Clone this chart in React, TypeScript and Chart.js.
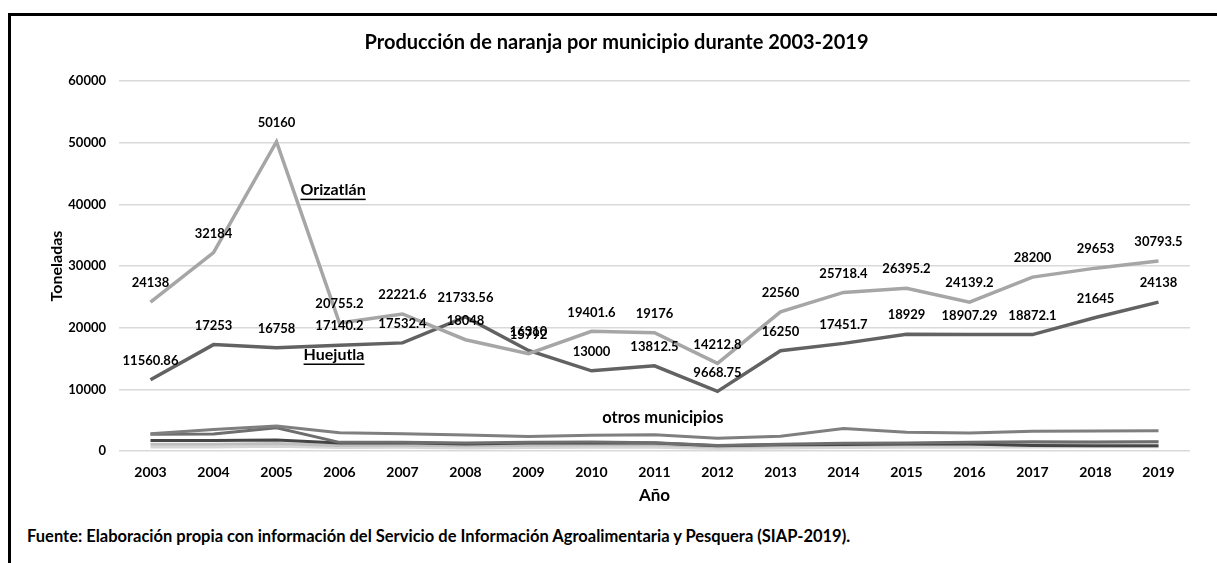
import React, { useEffect, useRef } from "react";
import { Chart, registerables } from "chart.js";

Chart.register(...registerables);

const FONT = "Lato, 'Open Sans', sans-serif";

const years = ["2003", "2004", "2005", "2006", "2007", "2008", "2009", "2010", "2011", "2012", "2013", "2014", "2015", "2016", "2017", "2018", "2019"];

const orizatlan = [24138, 32184, 50160, 20755.2, 22221.6, 18048, 15792, 19401.6, 19176, 14212.8, 22560, 25718.4, 26395.2, 24139.2, 28200, 29653, 30793.5];
const huejutla = [11560.86, 17253, 16758, 17140.2, 17532.4, 21733.56, 16310, 13000, 13812.5, 9668.75, 16250, 17451.7, 18929, 18907.29, 18872.1, 21645, 24138];

const otros1 = [2800, 3500, 4050, 2950, 2800, 2600, 2350, 2550, 2650, 2050, 2400, 3650, 3050, 2900, 3200, 3250, 3300];
const otros2 = [2700, 2750, 3750, 1400, 1400, 1300, 1400, 1450, 1350, 900, 1100, 1250, 1300, 1400, 1500, 1450, 1500];
const otros3 = [1700, 1700, 1800, 1300, 1350, 1150, 1300, 1300, 1300, 850, 1000, 1050, 1150, 1150, 900, 850, 850];
const otros4 = [1100, 1100, 1200, 900, 950, 850, 950, 1000, 1000, 700, 850, 950, 1000, 1000, 1300, 1400, 1500];
const otros5 = [650, 650, 750, 550, 600, 500, 550, 600, 600, 400, 500, 550, 600, 600, 650, 700, 700];

const yTicks = [0, 10000, 20000, 30000, 40000, 50000, 60000];

const notes = [
  { text: "Orizatlán", xIndex: 2.38, value: 42300, underline: true, size: 16 },
  { text: "Huejutla", xIndex: 2.43, value: 15570, underline: true, size: 16 },
  { text: "otros municipios", xIndex: 7.17, value: 5350, underline: false, size: 16.5 },
];

const labelPlugin = {
  id: "valueLabels",
  afterDatasetsDraw(chart: any) {
    const ctx = chart.ctx;
    ctx.save();
    ctx.font = `bold 13px ${FONT}`;
    ctx.fillStyle = "#000";
    ctx.textAlign = "center";
    ctx.textBaseline = "middle";
    chart.data.datasets.forEach((ds: any, i: number) => {
      if (!ds.showLabels) return;
      const meta = chart.getDatasetMeta(i);
      meta.data.forEach((pt: any, j: number) => {
        ctx.fillText(String(ds.data[j]), pt.x, pt.y - 19);
      });
    });
    const xs = chart.scales.x;
    const ys = chart.scales.y;
    notes.forEach((n) => {
      const i0 = Math.floor(n.xIndex);
      const f = n.xIndex - i0;
      const x = xs.getPixelForValue(i0) * (1 - f) + xs.getPixelForValue(i0 + 1) * f;
      const y = ys.getPixelForValue(n.value);
      ctx.font = `bold ${n.size}px ${FONT}`;
      ctx.textAlign = "left";
      ctx.textBaseline = "middle";
      ctx.fillStyle = "#000";
      ctx.fillText(n.text, x, y);
      if (n.underline) {
        const w = ctx.measureText(n.text).width;
        ctx.fillRect(x, y + 8.5, w, 1.5);
      }
    });
    ctx.restore();
  },
};

function line(label: string, data: number[], color: string, width: number, showLabels: boolean) {
  return {
    label,
    data,
    borderColor: color,
    backgroundColor: color,
    borderWidth: width,
    pointRadius: 0,
    pointHoverRadius: 0,
    tension: 0,
    fill: false,
    showLabels,
  } as any;
}

export default function App() {
  const ref = useRef<HTMLCanvasElement>(null);

  useEffect(() => {
    if (!ref.current) return;
    const chart = new Chart(ref.current, {
      type: "line",
      data: {
        labels: years,
        datasets: [
          line("Orizatlán", orizatlan, "#a6a6a6", 3.5, true),
          line("Huejutla", huejutla, "#626262", 3.5, true),
          line("Otro 1", otros1, "#7f7f7f", 3, false),
          line("Otro 2", otros2, "#6e6e6e", 3, false),
          line("Otro 3", otros3, "#454545", 3, false),
          line("Otro 4", otros4, "#bfbfbf", 3, false),
          line("Otro 5", otros5, "#d6d6d6", 3, false),
        ],
      },
      options: {
        responsive: false,
        animation: false,
        layout: { padding: { left: 32, right: 27, top: 0, bottom: 0 } },
        plugins: {
          legend: { display: false },
          tooltip: { enabled: false },
          title: {
            display: true,
            text: "Producción de naranja por municipio durante 2003-2019",
            color: "#000",
            font: { family: FONT, size: 20, weight: "bold" },
            padding: { top: 15, bottom: 26 },
          },
        },
        scales: {
          x: {
            offset: true,
            grid: { display: false, drawTicks: false },
            border: { display: false },
            ticks: { color: "#000", font: { family: FONT, size: 14, weight: "bold" }, padding: 13, maxRotation: 0 },
            title: { display: true, text: "Año", color: "#000", font: { family: FONT, size: 17, weight: "bold" }, padding: { top: 0, bottom: 4 } },
            afterFit(scale: any) {
              scale.height = 59;
            },
          },
          y: {
            min: 0,
            max: 60000,
            afterBuildTicks(scale: any) {
              scale.ticks = yTicks.map((v) => ({ value: v }));
            },
            grid: { color: "#d9d9d9", lineWidth: 1.5, drawTicks: false },
            border: { display: false },
            ticks: {
              color: "#000",
              font: { family: FONT, size: 13, weight: "bold" },
              padding: 13,
              callback: (v: any) => String(v),
            },
            title: { display: true, text: "Toneladas", color: "#000", font: { family: FONT, size: 16, weight: "bold" }, padding: { top: 4, bottom: 0 } },
            afterFit(scale: any) {
              scale.width = 76;
            },
          },
        },
      } as any,
      plugins: [labelPlugin],
    });
    return () => chart.destroy();
  }, []);

  return (
    <div
      style={{
        position: "fixed",
        left: 8,
        top: 13,
        right: 0,
        bottom: 0,
        borderTop: "3px solid #000",
        borderLeft: "3px solid #000",
        background: "#fff",
      }}
    >
      <canvas ref={ref} width={1206} height={494} style={{ display: "block", position: "absolute", left: 0, top: 0 }} />
      <div
        style={{
          position: "absolute",
          left: 16,
          top: 510,
          fontFamily: FONT,
          fontWeight: "bold",
          fontSize: 16.5,
          lineHeight: "20px",
          color: "#000",
          whiteSpace: "nowrap",
        }}
      >
        Fuente: Elaboración propia con información del Servicio de Información Agroalimentaria y Pesquera (SIAP-2019).
      </div>
    </div>
  );
}
